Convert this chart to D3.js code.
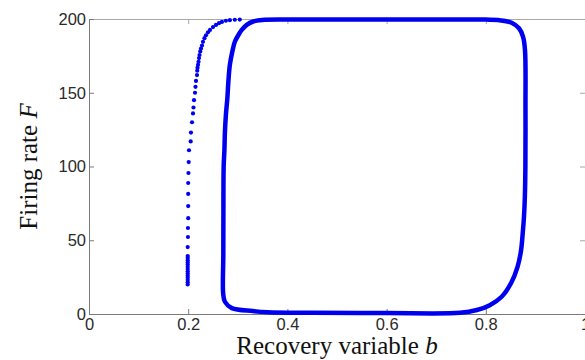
<!DOCTYPE html>
<html>
<head>
<meta charset="utf-8">
<script src="https://cdn.jsdelivr.net/npm/d3@7"></script>
<style>
  body { margin: 0; background: #fff; }
  .tick text { font-family: "Liberation Sans", Arial, sans-serif; font-size: 16.5px; fill: #2a2a2a; }
  .axis-title { font-family: "Liberation Serif", "Times New Roman", serif; font-size: 25px; fill: #111; }
</style>
</head>
<body>
<div id="chart"></div>
<script>
// transient part of the trajectory (sparse dots)
var transientB = [0.199, 0.199, 0.199, 0.199, 0.199, 0.199, 0.199, 0.199, 0.199, 0.199, 0.199, 0.199, 0.199,
    0.199, 0.199, 0.1995, 0.1995, 0.2, 0.2, 0.2, 0.2, 0.2005, 0.201, 0.2016,
    0.205, 0.2056, 0.2077, 0.2097, 0.2107, 0.2117, 0.2137, 0.2147, 0.2157, 0.2177, 0.2182, 0.2188,
    0.2198, 0.2208, 0.2218, 0.2228, 0.2243, 0.2258, 0.2278, 0.2298, 0.2328, 0.2359, 0.2398, 0.244,
    0.25, 0.256, 0.262, 0.268, 0.276, 0.284, 0.294, 0.304];
var transientF = [20, 21.5, 23, 24.5, 26, 27.5, 29, 30.5, 32, 33.5, 35, 36.5, 38,
    39.3, 45.4, 52.2, 58.3, 65, 73.2, 81.4, 88.8, 95.6, 103, 111,
    117, 123, 130, 136, 140, 145, 150, 154, 158, 162, 165, 167,
    169, 171, 173.5, 175.6, 178, 180, 182, 184.5, 187, 189, 191, 192.6,
    194.5, 196, 197.2, 198, 198.8, 199.2, 199.5, 199.6];

// limit cycle (dense dots, drawn as a thick trace)
var cycleB = [0.2705, 0.2708, 0.271, 0.2715, 0.273, 0.274, 0.276, 0.279, 0.281, 0.284, 0.289, 0.294,
    0.301, 0.308, 0.318, 0.331, 0.349, 0.40, 0.60, 0.80, 0.825, 0.852, 0.867, 0.875, 0.879, 0.880,
    0.8798, 0.8788, 0.877, 0.8745, 0.871, 0.864, 0.851, 0.832, 0.808, 0.782, 0.748, 0.60, 0.45, 0.36,
    0.33, 0.288, 0.274];
var cycleF = [14, 40, 70, 100, 111, 123, 135, 146.5, 157.6, 169, 178, 184.6,
    189, 192.6, 196, 198.3, 199.3, 199.6, 199.6, 199.6, 199.3, 197.5, 193.7, 188, 179, 140,
    100, 80, 66, 55, 43, 32, 21, 11.7, 6, 2.7, 0.8, 0.6, 0.8, 1.2,
    2, 4, 8.3];

var xTicks = [0, 0.2, 0.4, 0.6, 0.8, 1];
var yTicks = [0, 50, 100, 150, 200];

var width = 585, height = 360;
var margin = { top: 19, right: 0, bottom: 46, left: 89 };

var svg = d3.select("#chart").append("svg")
    .attr("width", width)
    .attr("height", height);

var x = d3.scaleLinear().domain([0, 1]).range([margin.left, width - margin.right]);
var y = d3.scaleLinear().domain([0, 200]).range([height - margin.bottom, margin.top]);

// box axes, MATLAB style ticks pointing inward
svg.append("g")
    .attr("transform", "translate(0," + y(200) + ")")
    .call(d3.axisTop(x).tickValues(xTicks).tickSizeInner(-5).tickSizeOuter(0).tickFormat(""))
    .call(function(g) { g.selectAll("path, line").attr("stroke", "#a8a8a8"); });

svg.append("g")
    .attr("transform", "translate(" + x(1) + ",0)")
    .call(d3.axisRight(y).tickValues(yTicks).tickSizeInner(-5).tickSizeOuter(0).tickFormat(""))
    .call(function(g) { g.selectAll("path, line").attr("stroke", "#a8a8a8"); });

svg.append("g")
    .attr("transform", "translate(0," + y(0) + ")")
    .call(d3.axisBottom(x).tickValues(xTicks).tickSizeInner(-5).tickSizeOuter(0).tickPadding(4)
        .tickFormat(d3.format("~g")))
    .call(function(g) { g.selectAll("path, line").attr("stroke", "#7a7a7a"); });

svg.append("g")
    .attr("transform", "translate(" + x(0) + ",0)")
    .call(d3.axisLeft(y).tickValues(yTicks).tickSizeInner(-5).tickSizeOuter(0).tickPadding(3))
    .call(function(g) { g.selectAll("path, line").attr("stroke", "#7a7a7a"); });

// limit cycle
var cycle = cycleB.map(function(b, i) { return [b, cycleF[i]]; });

var line = d3.line()
    .x(function(d) { return x(d[0]); })
    .y(function(d) { return y(d[1]); })
    .curve(d3.curveCatmullRomClosed.alpha(0.5));

svg.append("path")
    .datum(cycle)
    .attr("d", line)
    .attr("fill", "none")
    .attr("stroke", "#0000f0")
    .attr("stroke-width", 4.5)
    .attr("stroke-linejoin", "round");

// transient dots
var transient = transientB.map(function(b, i) { return { b: b, F: transientF[i] }; });

svg.selectAll(".dot")
    .data(transient)
    .enter().append("circle")
    .attr("class", "dot")
    .attr("cx", function(d) { return x(d.b); })
    .attr("cy", function(d) { return y(d.F); })
    .attr("r", 2.1)
    .attr("fill", "#0000f0");

// axis titles
var xt = svg.append("text")
    .attr("class", "axis-title")
    .attr("x", (x(0) + x(1)) / 2)
    .attr("y", 354)
    .attr("text-anchor", "middle");
xt.append("tspan").text("Recovery variable ");
xt.append("tspan").attr("font-style", "italic").text("b");

var yt = svg.append("text")
    .attr("class", "axis-title")
    .attr("transform", "translate(37," + (y(0) + y(200)) / 2 + ") rotate(-90)")
    .attr("text-anchor", "middle");
yt.append("tspan").text("Firing rate ");
yt.append("tspan").attr("font-style", "italic").text("F");
</script>
</body>
</html>
